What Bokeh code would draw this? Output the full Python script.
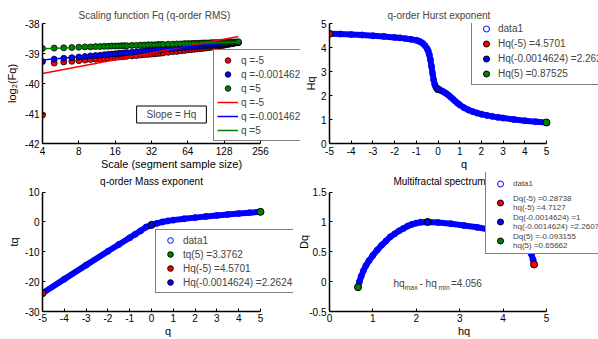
from bokeh.plotting import figure
from bokeh.models import Range1d, FixedTicker, Legend, LegendItem, Label
from bokeh.layouts import column, row
from bokeh.embed import file_html
from bokeh.resources import INLINE

FONT = "Liberation Sans"
RED, BLUE, GREEN = "#ff0000", "#0000ff", "#008000"

# ---------------- data: scaling function ----------------
scales = [4, 5, 6, 7, 8, 9, 10, 11, 12, 13, 14, 15, 16, 17, 18, 19, 20, 22, 24, 26, 28, 30,
          32, 34, 36, 38, 40, 44, 48, 52, 56, 60, 64, 68, 72, 76, 80, 84, 88, 92, 96, 100,
          104, 108, 112, 116, 120, 124, 128, 132, 136, 140, 144, 148, 152, 156, 160, 164, 168]
fq_qneg5 = [-41.05, -39.32, -39.28, -39.26, -39.24, -39.22, -39.20, -39.19, -39.18, -39.16,
            -39.15, -39.14, -39.13, -39.12, -39.11, -39.10, -39.09, -39.08, -39.07, -39.05,
            -39.04, -39.03, -39.02, -39.01, -39.00, -38.99, -38.98, -38.96, -38.94, -38.93,
            -38.91, -38.90, -38.88, -38.87, -38.86, -38.85, -38.84, -38.83, -38.82, -38.81,
            -38.80, -38.79, -38.78, -38.77, -38.76, -38.75, -38.74, -38.73, -38.72, -38.71,
            -38.70, -38.69, -38.68, -38.67, -38.66, -38.65, -38.64, -38.64, -38.63]
fq_q0 = [-39.27, -39.19, -39.16, -39.14, -39.12, -39.10, -39.08, -39.07, -39.06, -39.04,
         -39.03, -39.02, -39.01, -39.00, -38.99, -38.98, -38.97, -38.96, -38.95, -38.93,
         -38.92, -38.91, -38.90, -38.89, -38.88, -38.87, -38.86, -38.85, -38.84, -38.82,
         -38.81, -38.80, -38.79, -38.78, -38.77, -38.76, -38.75, -38.75, -38.74, -38.73,
         -38.73, -38.72, -38.71, -38.71, -38.70, -38.70, -38.69, -38.69, -38.68, -38.68,
         -38.67, -38.67, -38.66, -38.66, -38.65, -38.65, -38.64, -38.64, -38.64]
fq_qpos5 = [-38.83, -38.82, -38.81, -38.80, -38.79, -38.78, -38.78, -38.77, -38.77, -38.76,
            -38.76, -38.75, -38.75, -38.75, -38.74, -38.74, -38.74, -38.73, -38.73, -38.72,
            -38.72, -38.71, -38.71, -38.71, -38.70, -38.70, -38.70, -38.69, -38.69, -38.68,
            -38.68, -38.67, -38.67, -38.67, -38.66, -38.66, -38.66, -38.65, -38.65, -38.65,
            -38.65, -38.64, -38.64, -38.64, -38.64, -38.64, -38.63, -38.63, -38.63, -38.63,
            -38.63, -38.62, -38.62, -38.62, -38.62, -38.62, -38.62, -38.62, -38.61]
fit_scales = [4, 168]
fit_qneg5 = [-39.67, -38.43]
fit_q0 = [-39.22, -38.62]
fit_qpos5 = [-38.84, -38.62]
fq_labels = ["q =-5", "q =-0.0014624", "q =5"]

# ---------------- data: Hurst exponent ----------------
q_hurst = [-5.0, -4.5, -4.0, -3.5, -3.0, -2.5, -2.0, -1.75, -1.5, -1.25, -1.0, -0.9, -0.8,
           -0.7, -0.6, -0.5, -0.45, -0.4, -0.35, -0.3, -0.25, -0.2, -0.15, -0.1, -0.05, 0.0,
           0.1, 0.2, 0.3, 0.4, 0.5, 0.6, 0.7, 0.8, 0.9, 1.0, 1.2, 1.4, 1.6, 1.8, 2.0, 2.25,
           2.5, 2.75, 3.0, 3.5, 4.0, 4.5, 5.0]
hq_hurst = [4.57, 4.56, 4.54, 4.52, 4.49, 4.46, 4.42, 4.40, 4.37, 4.34, 4.30, 4.27, 4.23,
            4.17, 4.08, 3.95, 3.85, 3.70, 3.50, 3.22, 2.92, 2.65, 2.46, 2.35, 2.29, 2.26,
            2.22, 2.18, 2.13, 2.07, 2.00, 1.92, 1.84, 1.76, 1.68, 1.61, 1.49, 1.40, 1.33,
            1.27, 1.22, 1.17, 1.13, 1.09, 1.06, 1.00, 0.95, 0.91, 0.875]
q_marks = [-5, -0.0014624, 5]
hurst_marks = [4.5701, 2.2624, 0.87525]
hurst_labels = ["Hq(-5) =4.5701", "Hq(-0.0014624) =2.2624", "Hq(5) =0.87525"]

# ---------------- data: mass exponent ----------------
q_mass = [-5, -4, -3, -2, -1.5, -1, -0.75, -0.5, -0.25, 0, 0.25, 0.5, 0.75, 1, 1.5, 2,
          2.5, 3, 3.5, 4, 4.5, 5]
tq_mass = [-23.85, -19.16, -14.47, -9.84, -7.56, -5.30, -4.15, -2.98, -1.73, -1.00, -0.46,
           0.00, 0.35, 0.61, 1.05, 1.44, 1.83, 2.18, 2.50, 2.80, 3.10, 3.38]
mass_marks_q = [5, -5, -0.0014624]
mass_marks_tq = [3.3762, -23.8505, -1.0033]
mass_labels = ["tq(5) =3.3762", "Hq(-5) =4.5701", "Hq(-0.0014624) =2.2624"]

# ---------------- data: multifractal spectrum ----------------
hq_spec = [0.657, 0.69, 0.73, 0.78, 0.84, 0.91, 1.0, 1.1, 1.2, 1.3, 1.4, 1.5, 1.6, 1.7,
           1.8, 1.9, 2.0, 2.1, 2.26, 2.5, 2.8, 3.1, 3.4, 3.7, 4.0, 4.25, 4.45, 4.58, 4.65,
           4.69, 4.713]
dq_spec = [-0.093, 0.0, 0.09, 0.18, 0.27, 0.35, 0.44, 0.53, 0.61, 0.68, 0.75, 0.80, 0.85,
           0.89, 0.93, 0.96, 0.98, 0.995, 1.0, 0.99, 0.97, 0.94, 0.91, 0.87, 0.82, 0.76,
           0.68, 0.57, 0.46, 0.37, 0.287]
spec_marks_hq = [4.7127, 2.2607, 0.65662]
spec_marks_dq = [0.28738, 1.0, -0.093155]
spec_labels = ["Dq(-5) =0.28738\nhq(-5) =4.7127",
               "Dq(-0.0014624) =1\nhq(-0.0014624) =2.2607",
               "Dq(5) =-0.093155\nhq(5) =0.65662"]
mark_colors = [RED, BLUE, GREEN]

# ---------------- ticks / axis limits ----------------
ticks_scale = [4, 8, 16, 32, 64, 128, 256]
ticks_fq = [-42, -41, -40, -39, -38]
ticks_q = [-5, -4, -3, -2, -1, 0, 1, 2, 3, 4, 5]
ticks_h = [0, 1, 2, 3, 4, 5]
ticks_tq = [-30, -20, -10, 0, 10]
ticks_dq = [-0.5, 0, 0.5, 1, 1.5]
labels_dq = ["-0.5", "0", "0.5", "1", "1.5"]
lim_scale = (4, 256)
lim_fq = (-42, -38)
lim_q = (-5, 5)
lim_h = (0, 5)
lim_tq = (-30, 10)
lim_dq = (-0.5, 1.5)


def style(p, xt, xl, yt, yl, xlab, ylab, xb, yb, x_std=3, xl_std=0, y_std=3, yl_std=2):
    p.grid.visible = False
    p.outline_line_color = None
    p.background_fill_color = "white"
    p.border_fill_color = "white"
    for ax, t, l, lab, b in ((p.xaxis[0], xt, xl, xlab, xb), (p.yaxis[0], yt, yl, ylab, yb)):
        ax.ticker = FixedTicker(ticks=t, minor_ticks=[])
        ax.major_label_overrides = {tk: lb for tk, lb in zip(t, l)}
        ax.bounds = b
        ax.axis_line_color = "black"
        ax.axis_line_width = 1.5
        ax.major_tick_in = 3
        ax.major_tick_out = 0
        ax.major_tick_line_color = "black"
        ax.minor_tick_line_color = None
        ax.major_label_text_font = FONT
        ax.major_label_text_font_size = "10px"
        ax.major_label_text_color = "black"
        ax.axis_label = lab
        ax.axis_label_text_font = FONT
        ax.axis_label_text_font_size = "11px"
        ax.axis_label_text_font_style = "normal"
        ax.axis_label_text_color = "black"
    p.xaxis[0].major_label_standoff = x_std
    p.xaxis[0].axis_label_standoff = xl_std
    p.yaxis[0].major_label_standoff = y_std
    p.yaxis[0].axis_label_standoff = yl_std
    p.title.text_font = FONT
    p.title.text_font_size = "10px"
    p.title.text_font_style = "normal"
    p.title.standoff = 6


def make_legend(p, items, loc, gw, gh, std, fs="10px", lh=None):
    leg = Legend(items=[LegendItem(label=lb, renderers=[r]) for lb, r in items],
                 location=loc, orientation="vertical", margin=0, padding=3, spacing=0,
                 glyph_width=gw, glyph_height=gh, label_height=lh or gh, label_standoff=std,
                 label_text_font=FONT, label_text_font_size=fs,
                 border_line_color="black", border_line_width=1.5,
                 background_fill_color="white", background_fill_alpha=1.0)
    p.add_layout(leg)


def inner_title(p, text, x, y):
    p.add_layout(Label(x=x, y=y, x_units="screen", y_units="screen", text=text,
                       text_align="center", text_baseline="alphabetic", text_font=FONT,
                       text_font_size="10px", text_color="black"))


common = dict(output_backend="svg", toolbar_location=None)

# ---------------- top-left ----------------
p1 = figure(width=300, height=172, x_axis_type="log", x_range=Range1d(4, 549.2),
            y_range=Range1d(*lim_fq), min_border_left=42, min_border_right=0,
            min_border_top=23, min_border_bottom=27,
            title="Scaling function Fq (q-order RMS)", **common)
p1.title.align = "left"
p1.title.offset = 36
sc = []
for vals, col in ((fq_qneg5, RED), (fq_q0, BLUE), (fq_qpos5, GREEN)):
    sc.append(p1.scatter(scales, vals, size=6, fill_color=col, line_color="black",
                         line_width=0.8))
ln = []
for vals, col in ((fit_qneg5, RED), (fit_q0, BLUE), (fit_qpos5, GREEN)):
    ln.append(p1.line(fit_scales, vals, line_color=col, line_width=1.5))
style(p1, ticks_scale, [str(t) for t in ticks_scale], ticks_fq, [str(t) for t in ticks_fq],
      "Scale (segment sample size)", "log\u2082(Fq)", lim_scale, lim_fq, yl_std=4)
make_legend(p1, list(zip(fq_labels, sc)) + list(zip(fq_labels, ln)), (171, 2), 21, 14, 3)
p1.add_layout(Label(x=129, y=29, x_units="screen", y_units="screen", text="Slope = Hq",
                    text_align="center", text_baseline="middle", text_font=FONT,
                    text_font_size="10px", border_line_color="black", border_line_width=1,
                    background_fill_color="white",
                    padding=dict(left=10, right=10, top=3, bottom=3)))

# ---------------- top-right ----------------
p2 = figure(width=298, height=172, x_range=Range1d(-5, 7.396), y_range=Range1d(*lim_h),
            min_border_left=29, min_border_right=0, min_border_top=23,
            min_border_bottom=27, title="q-order Hurst exponent", **common)
p2.title.align = "left"
p2.title.offset = 58
p2.line(q_hurst, hq_hurst, line_width=6, line_color=BLUE, line_cap="round",
        line_join="round")
d2 = p2.scatter(q_hurst, hq_hurst, size=6, fill_color=None, line_color=BLUE, line_width=1)
m2 = [p2.scatter([q_marks[i]], [hurst_marks[i]], size=7, fill_color=mark_colors[i],
                 line_color="black", line_width=1) for i in range(3)]
style(p2, ticks_q, [str(t) for t in ticks_q], ticks_h, [str(t) for t in ticks_h], "q", "Hq",
      lim_q, lim_h, yl_std=1)
make_legend(p2, [("data1", d2)] + list(zip(hurst_labels, m2)), (142, 58), 22, 15, 1)

# ---------------- bottom-left ----------------
p3 = figure(width=293, height=167, x_range=Range1d(-5, 6.514), y_range=Range1d(-30, 16.56),
            min_border_left=42, min_border_right=0, min_border_top=0,
            min_border_bottom=25, **common)
p3.line(q_mass, tq_mass, line_width=6, line_color=BLUE, line_cap="round", line_join="round")
d3 = p3.scatter(q_mass, tq_mass, size=6, fill_color=None, line_color=BLUE, line_width=1)
m3_cols = [GREEN, RED, BLUE]
m3 = [p3.scatter([mass_marks_q[i]], [mass_marks_tq[i]], size=7, fill_color=m3_cols[i],
                 line_color="black", line_width=1) for i in range(3)]
style(p3, ticks_q, [str(t) for t in ticks_q], ticks_tq, [str(t) for t in ticks_tq], "q", "tq",
      lim_q, lim_tq, x_std=2, xl_std=0, yl_std=2)
inner_title(p3, "q-order Mass exponent", 109, 130)
make_legend(p3, [("data1", d3)] + list(zip(mass_labels, m3)), (113, 18), 22, 14, 2)

# ---------------- bottom-right ----------------
p4 = figure(width=305, height=167, x_range=Range1d(0, 6.198),
            y_range=Range1d(-0.5, 1.828), min_border_left=36, min_border_right=0,
            min_border_top=0, min_border_bottom=25, **common)
p4.line(hq_spec, dq_spec, line_width=6, line_color=BLUE, line_cap="round", line_join="round")
d4 = p4.scatter(hq_spec, dq_spec, size=6, fill_color=None, line_color=BLUE, line_width=1)
m4 = [p4.scatter([spec_marks_hq[i]], [spec_marks_dq[i]], size=7, fill_color=mark_colors[i],
                 line_color="black", line_width=1) for i in range(3)]
style(p4, ticks_h, [str(t) for t in ticks_h], ticks_dq, labels_dq, "hq", "Dq",
      lim_h, lim_dq, x_std=2, xl_std=0, y_std=3, yl_std=-4)
inner_title(p4, "Multifractal spectrum", 110, 130)
make_legend(p4, [("data1", d4)] + list(zip(spec_labels, m4)), (156, 57), 22, 15, 2,
            fs="8px", lh=19)

for txt, x, y, fs in (("hq", 64, 28.5, "10px"), ("max", 75, 24.5, "7px"),
                      ("- hq", 90, 28.5, "10px"), ("min", 109, 24.5, "7px"),
                      ("=4.056", 121.5, 28.5, "10px")):
    p4.add_layout(Label(x=x, y=y, x_units="screen", y_units="screen", text=txt,
                        text_font=FONT, text_font_size=fs, text_baseline="alphabetic",
                        text_align="left"))

layout = column(row(p1, p2), row(p3, p4))
open("out.html", "w").write(file_html(layout, INLINE))
